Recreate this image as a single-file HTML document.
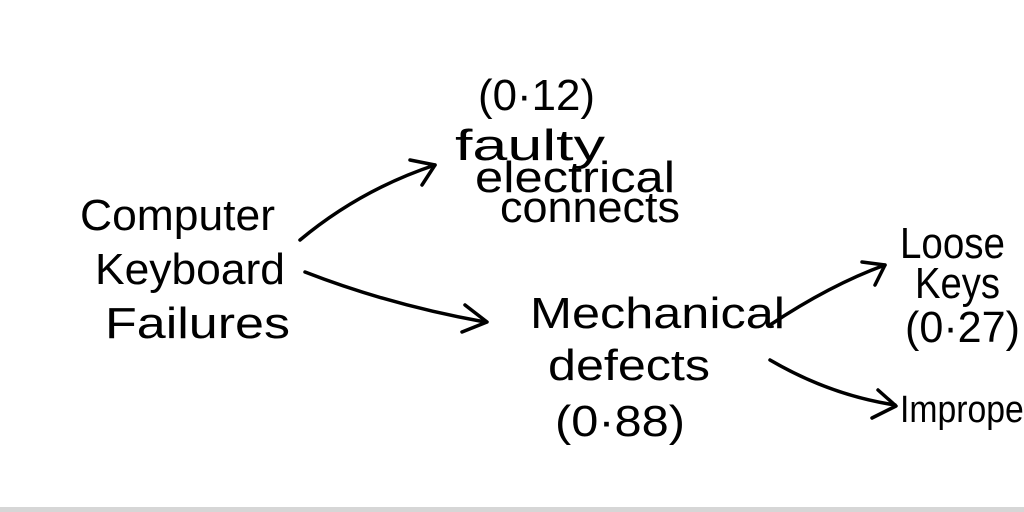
<!DOCTYPE html>
<html><head><meta charset="utf-8"><style>
html,body{margin:0;padding:0;background:#fff;}
svg{display:block;}
text{font-family:"Liberation Sans",sans-serif;fill:#000;}
</style></head><body>
<svg width="1024" height="512" viewBox="0 0 1024 512" xmlns="http://www.w3.org/2000/svg">
<rect width="1024" height="512" fill="#fff"/>
<g font-size="44">
<text x="80" y="230" textLength="195" lengthAdjust="spacingAndGlyphs">Computer</text>
<text x="95" y="284" textLength="190" lengthAdjust="spacingAndGlyphs">Keyboard</text>
<text x="105" y="338" textLength="185" lengthAdjust="spacingAndGlyphs">Failures</text>
<text x="478" y="110" textLength="117" lengthAdjust="spacingAndGlyphs">(0·12)</text>
<text x="455" y="160" textLength="150" lengthAdjust="spacingAndGlyphs">faulty</text>
<text x="475" y="192" textLength="200" lengthAdjust="spacingAndGlyphs">electrical</text>
<text x="500" y="222" textLength="180" lengthAdjust="spacingAndGlyphs">connects</text>
<text x="530" y="328" textLength="255" lengthAdjust="spacingAndGlyphs">Mechanical</text>
<text x="548" y="380" textLength="162" lengthAdjust="spacingAndGlyphs">defects</text>
<text x="555" y="436" textLength="130" lengthAdjust="spacingAndGlyphs">(0·88)</text>
<text x="900" y="258" textLength="105" lengthAdjust="spacingAndGlyphs">Loose</text>
<text x="915" y="298" textLength="85" lengthAdjust="spacingAndGlyphs">Keys</text>
<text x="905" y="342" textLength="115" lengthAdjust="spacingAndGlyphs">(0·27)</text>
<text x="900" y="422" font-size="38" textLength="135" lengthAdjust="spacingAndGlyphs">Improper</text>
</g>
<g fill="none" stroke="#000" stroke-width="3.5" stroke-linecap="round" stroke-linejoin="round">
<path d="M300 240 Q360 190 435 165"/>
<path d="M410 160 L435 165 L422 185"/>
<path d="M305 272 Q390 305 485 322"/>
<path d="M465 305 L487 322 L462 332"/>
<path d="M770 325 Q830 285 885 265"/>
<path d="M862 262 L885 265 L875 285"/>
<path d="M770 360 Q830 395 895 405"/>
<path d="M878 390 L896 406 L872 418"/>
</g>
<rect x="0" y="507" width="1024" height="5" fill="#d6d6d6"/>
</svg>
</body></html>
